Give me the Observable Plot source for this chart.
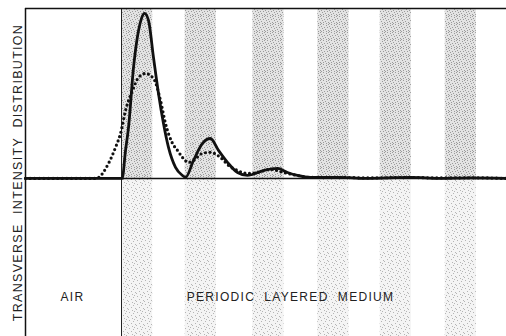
<!DOCTYPE html>
<html>
<head>
<meta charset="utf-8">
<script src="https://cdn.jsdelivr.net/npm/d3@7"></script>
<script src="https://cdn.jsdelivr.net/npm/@observablehq/plot@0.6"></script>
<style>
  html, body { margin: 0; padding: 0; background: #fff; }
  #chart { width: 506px; height: 336px; }
</style>
</head>
<body>
<div id="chart"></div>
<script>
// Layer stripes (start position in units of the layer period, stripe width)
const stripeStart = [0, 0.98, 2.02, 3.02, 3.98, 4.98];
const stripeWidth = 0.48;

// Solid curve (normalized intensity)
const solidX = [-1.477, 0, 0.01, 0.062, 0.108, 0.185, 0.262, 0.308, 0.354, 0.415, 0.492, 0.569, 0.646, 0.723, 0.831, 0.938, 0.985, 1.108, 1.246, 1.369, 1.492, 1.631, 1.785, 1.938, 2.185, 2.4, 2.554, 2.708, 2.908, 3.37, 3.75, 4.45, 4.9, 5.37, 5.923];
const solidY = [0, 0, 0, 0.17, 0.309, 0.673, 0.897, 0.97, 1.0, 0.958, 0.733, 0.515, 0.333, 0.188, 0.067, 0.018, 0.006, 0.109, 0.212, 0.242, 0.170, 0.097, 0.036, 0.018, 0.048, 0.061, 0.036, 0.018, 0.006, 0.006, 0, 0.006, 0, 0.003, 0];

// Dotted curve
const dottedX = [-1.477, -0.4, -0.354, -0.2, -0.092, -0.015, 0.062, 0.169, 0.262, 0.369, 0.492, 0.6, 0.677, 0.785, 0.862, 0.938, 1.031, 1.108, 1.246, 1.369, 1.523, 1.646, 1.785, 1.938, 2.092, 2.292, 2.492, 2.708, 2.908, 3.4, 3.8, 4.4, 4.9, 5.4, 5.923];
const dottedY = [0, 0, 0.006, 0.091, 0.188, 0.273, 0.412, 0.533, 0.612, 0.636, 0.606, 0.473, 0.333, 0.212, 0.170, 0.127, 0.097, 0.109, 0.152, 0.158, 0.127, 0.079, 0.048, 0.030, 0.036, 0.055, 0.036, 0.018, 0.006, 0.006, 0.003, 0.006, 0.003, 0.004, 0];

// Labels
const yLabel = "TRANSVERSE  INTENSITY  DISTRIBUTION";
const regionLabels = ["AIR", "PERIODIC  LAYERED  MEDIUM"];
const regionLabelX = [-0.754, 2.6];
const regionLabelY = -0.721;

const xDomain = [-1.477, 5.923];
const yDomain = [-0.958, 1.03];

const stripes = stripeStart.map(s => ({x1: s, x2: s + stripeWidth}));
const solid = solidX.map((x, i) => ({x, y: solidY[i]}));
const dotted = dottedX.map((x, i) => ({x, y: dottedY[i]}));
const regions = regionLabels.map((t, i) => ({t, x: regionLabelX[i], y: regionLabelY}));

const chart = Plot.plot({
  width: 506,
  height: 336,
  marginLeft: 25,
  marginRight: 0,
  marginTop: 8,
  marginBottom: 0,
  x: {domain: xDomain, axis: null},
  y: {domain: yDomain, axis: null},
  style: {fontFamily: "Liberation Sans, Arial, sans-serif", background: "#fff", letterSpacing: "1.3px"},
  marks: [
    Plot.rect(stripes, {x1: "x1", x2: "x2", y1: 0, y2: yDomain[1], fill: "url(#stipUp)"}),
    Plot.rect(stripes, {x1: "x1", x2: "x2", y1: yDomain[0], y2: 0, fill: "url(#stipDown)"}),
    Plot.ruleX([0], {stroke: "#222", strokeWidth: 1}),
    Plot.ruleX([xDomain[0]], {stroke: "#111", strokeWidth: 1.5}),
    Plot.ruleY([yDomain[1]], {stroke: "#111", strokeWidth: 1.5}),
    Plot.ruleY([0], {stroke: "#111", strokeWidth: 1.5}),
    Plot.line(dotted, {x: "x", y: "y", curve: "monotone-x", stroke: "#111", strokeWidth: 3.2, strokeDasharray: "0 4.6", strokeLinecap: "round"}),
    Plot.line(solid, {x: "x", y: "y", curve: "monotone-x", stroke: "#111", strokeWidth: 2.8}),
    Plot.text(regions, {x: "x", y: "y", text: "t", fontSize: 12, fill: "#222"}),
    Plot.text([yLabel], {frameAnchor: "left", text: d => d, rotate: -90, dx: -8, textAnchor: "middle", fontSize: 12.5, fill: "#222"})
  ]
});

// Stipple textures for the layer stripes (scattered dots in an 8x8 tile)
const svg = d3.select(chart);
const defs = svg.insert("defs", ":first-child");
function stipple(id, bg, dot, cells) {
  const p = defs.append("pattern").attr("id", id).attr("patternUnits", "userSpaceOnUse")
    .attr("width", 8).attr("height", 8);
  p.append("rect").attr("width", 8).attr("height", 8).attr("fill", bg);
  cells.forEach(([a, b]) =>
    p.append("rect").attr("x", a).attr("y", b).attr("width", 1).attr("height", 1).attr("fill", dot));
}
stipple("stipUp", "#e3e3e3", "#9a9a9a",
  [[0, 0], [3, 0], [6, 1], [1, 2], [4, 3], [7, 3], [2, 4], [5, 5], [0, 6], [3, 6], [6, 7], [1, 7]]);
stipple("stipDown", "#f4f4f4", "#b5b5b5",
  [[1, 0], [5, 1], [3, 3], [7, 4], [0, 5], [4, 6], [6, 7]]);

document.getElementById("chart").appendChild(chart);
</script>
</body>
</html>
